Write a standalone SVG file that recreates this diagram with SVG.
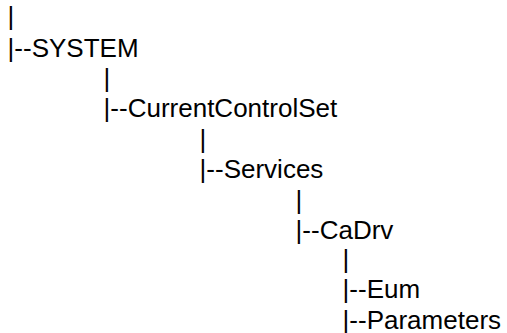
<svg xmlns="http://www.w3.org/2000/svg" width="507" height="333" viewBox="0 0 507 333">
  <style>
    text { font-family: "Liberation Sans", Arial, sans-serif; font-size: 26px; fill: #000; }
  </style>
  <rect width="507" height="333" fill="#fff"/>
  <!-- vertical tree bars between levels -->
  <g id="connectors">
    <text x="7.6" y="24.5">|</text>
    <text x="103.6" y="86.5">|</text>
    <text x="199.6" y="147.5">|</text>
    <text x="295.6" y="208.5">|</text>
    <text x="342.6" y="268">|</text>
  </g>
  <g id="node-system">
    <text x="7.6" y="56.5">|--SYSTEM</text>
  </g>
  <g id="node-currentcontrolset">
    <text x="103.6" y="116.5">|--CurrentControlSet</text>
  </g>
  <g id="node-services">
    <text x="199.6" y="177.5">|--Services</text>
  </g>
  <g id="node-cadrv">
    <text x="295.6" y="239">|--CaDrv</text>
  </g>
  <g id="node-eum">
    <text x="342.6" y="298">|--Eum</text>
  </g>
  <g id="node-parameters">
    <text x="342.6" y="328.5">|--Parameters</text>
  </g>
</svg>
